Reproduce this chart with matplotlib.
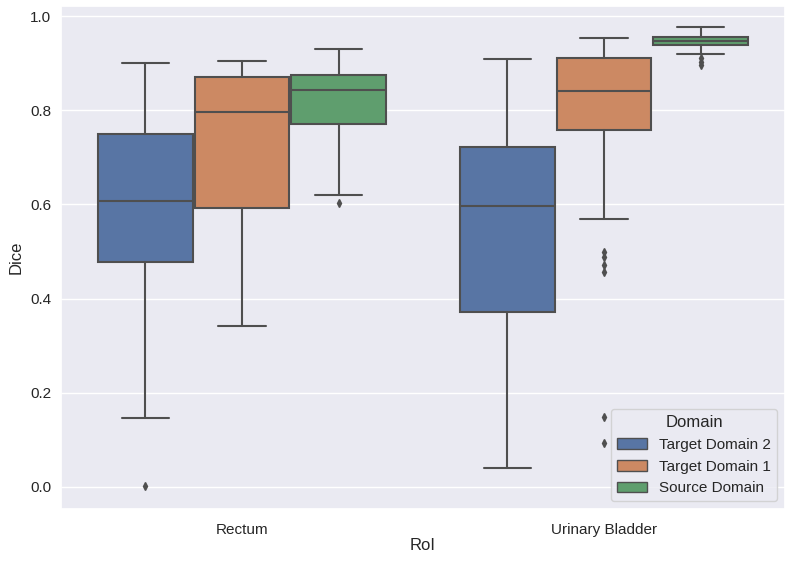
import matplotlib
matplotlib.use("Agg")
import matplotlib.pyplot as plt
import matplotlib.patches as mpatches
import seaborn as sns

sns.set_theme(style="darkgrid")
plt.rcParams["font.family"] = ["Liberation Sans", "DejaVu Sans"]

rois = ["Rectum", "Urinary Bladder"]
domains = ["Target Domain 2", "Target Domain 1", "Source Domain"]
colors = ["#5875A4", "#CC8963", "#5F9E6E"]

# box stats: [roi][domain]
whislo = [[0.147, 0.342, 0.619], [0.040, 0.568, 0.919]]
q1 = [[0.478, 0.592, 0.771], [0.372, 0.759, 0.938]]
med = [[0.607, 0.796, 0.842], [0.597, 0.840, 0.948]]
q3 = [[0.749, 0.870, 0.874], [0.722, 0.910, 0.955]]
whishi = [[0.900, 0.904, 0.930], [0.909, 0.953, 0.976]]
fliers = [
    [[0.002], [], [0.602]],
    [[], [0.498, 0.488, 0.472, 0.457, 0.149, 0.093], [0.910, 0.903, 0.897]],
]

line_col = "#4f4f4f"
fig, ax = plt.subplots(figsize=(7.87, 5.63), dpi=100)
fig.subplots_adjust(left=0.0775, right=0.9975, top=0.989, bottom=0.096)

width = 0.8 / len(domains)
for i, roi in enumerate(rois):
    for j, dom in enumerate(domains):
        pos = i + (j - 1) * width
        stats = [dict(whislo=whislo[i][j], q1=q1[i][j], med=med[i][j],
                      q3=q3[i][j], whishi=whishi[i][j], fliers=fliers[i][j])]
        ax.bxp(stats, positions=[pos], widths=width * 0.98, patch_artist=True,
               showfliers=True, manage_ticks=False,
               boxprops=dict(facecolor=colors[j], edgecolor=line_col, linewidth=1.5),
               medianprops=dict(color=line_col, linewidth=1.5),
               whiskerprops=dict(color=line_col, linewidth=1.5),
               capprops=dict(color=line_col, linewidth=1.5),
               flierprops=dict(marker="d", markersize=4, markerfacecolor=line_col,
                               markeredgecolor=line_col, linestyle="none"))

ax.set_xlim(-0.5, 1.5)
ax.set_ylim(-0.047, 1.021)
ax.xaxis.grid(False)
ax.set_xticks(range(len(rois)))
ax.set_xticklabels(rois, fontsize=11)
ax.set_yticks([0.0, 0.2, 0.4, 0.6, 0.8, 1.0])
ax.tick_params(axis="y", labelsize=11, pad=1)
ax.tick_params(axis="x", pad=4)
ax.set_xlabel("RoI", fontsize=12, labelpad=1)
ax.set_ylabel("Dice", fontsize=12, labelpad=5)

handles = [mpatches.Patch(facecolor=c, edgecolor=line_col, label=d)
           for c, d in zip(colors, domains)]
ax.legend(handles=handles, title="Domain", loc="lower right",
          fontsize=11, title_fontsize=12)

plt.savefig("out.png")
plt.close()
